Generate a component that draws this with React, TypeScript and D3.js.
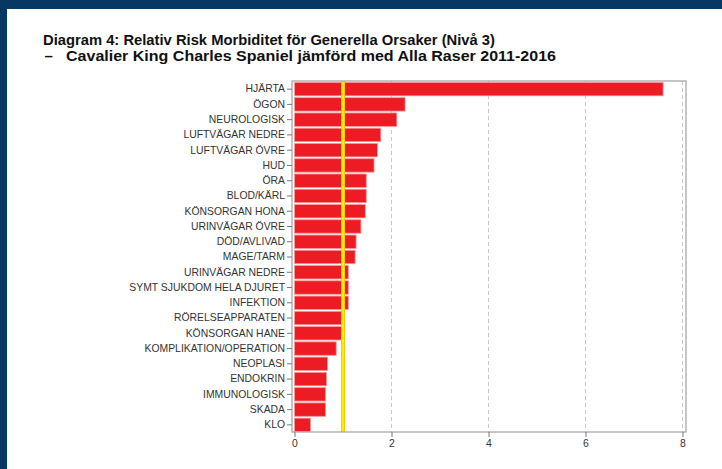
import * as d3 from 'd3'
import { useRef, useEffect } from 'react'

const categories = [
  'HJÄRTA', 'ÖGON', 'NEUROLOGISK', 'LUFTVÄGAR NEDRE', 'LUFTVÄGAR ÖVRE', 'HUD', 'ÖRA',
  'BLOD/KÄRL', 'KÖNSORGAN HONA', 'URINVÄGAR ÖVRE', 'DÖD/AVLIVAD', 'MAGE/TARM',
  'URINVÄGAR NEDRE', 'SYMT SJUKDOM HELA DJURET', 'INFEKTION', 'RÖRELSEAPPARATEN',
  'KÖNSORGAN HANE', 'KOMPLIKATION/OPERATION', 'NEOPLASI', 'ENDOKRIN', 'IMMUNOLOGISK',
  'SKADA', 'KLO',
]
const relativeRisk = [
  7.6, 2.28, 2.11, 1.78, 1.71, 1.64, 1.48, 1.48, 1.46, 1.37, 1.27, 1.25,
  1.11, 1.11, 1.11, 0.97, 0.97, 0.86, 0.68, 0.66, 0.64, 0.64, 0.33,
]
const xTicks = [0, 2, 4, 6, 8]
const gridTicks = [2, 4, 6, 8]
const referenceLevel = 1
const titleLine1 = 'Diagram 4: Relativ Risk Morbiditet för Generella Orsaker (Nivå 3)'
const titleLine2 = 'Cavalier King Charles Spaniel jämförd med Alla Raser 2011-2016'

export default function App() {
  const svgRef = useRef<SVGSVGElement>(null)

  useEffect(() => {
    const svg = d3.select(svgRef.current)
    svg.selectAll('*').remove()

    const width = 722
    const height = 469
    const frame = { left: 292, right: 686, top: 81, bottom: 432 }
    const font = 'Liberation Sans, Arial, sans-serif'

    // blue slide border
    svg.append('rect').attr('width', width).attr('height', height).attr('fill', '#073763')
    svg.append('rect').attr('x', 7).attr('y', 9).attr('width', width - 7).attr('height', height - 9).attr('fill', '#fff')

    const title = svg.append('g')
      .attr('font-family', font)
      .attr('font-weight', 'bold')
      .attr('fill', '#111')
    title.append('text')
      .attr('x', 43).attr('y', 44.5)
      .attr('font-size', 15.3)
      .attr('textLength', 452)
      .attr('lengthAdjust', 'spacingAndGlyphs')
      .text(titleLine1)
    title.append('text')
      .attr('x', 44.5).attr('y', 61)
      .attr('font-size', 15)
      .text('–')
    title.append('text')
      .attr('x', 66).attr('y', 61)
      .attr('font-size', 15.5)
      .attr('textLength', 490)
      .attr('lengthAdjust', 'spacingAndGlyphs')
      .text(titleLine2)

    const x = d3.scaleLinear().domain([0, 8]).range([294.5, 682.5])
    const y = d3.scaleBand<string>()
      .domain(categories)
      .range([frame.top + 0.5, frame.bottom + 0.5])
      .paddingInner(0.12)
      .paddingOuter(0.06)

    // dashed grid
    svg.append('g')
      .selectAll('line')
      .data(gridTicks)
      .join('line')
      .attr('x1', d => x(d)).attr('x2', d => x(d))
      .attr('y1', frame.top).attr('y2', frame.bottom)
      .attr('stroke', '#c8c8c8')
      .attr('stroke-dasharray', '4,3')

    // bars
    svg.append('g')
      .selectAll('rect')
      .data(relativeRisk)
      .join('rect')
      .attr('x', x(0))
      .attr('y', (_, i) => y(categories[i])!)
      .attr('width', d => x(d) - x(0))
      .attr('height', y.bandwidth())
      .attr('fill', '#ed1c24')
      .attr('stroke', '#f59a9d')
      .attr('stroke-width', 0.8)

    // reference line at RR = 1
    svg.append('line')
      .attr('x1', x(referenceLevel)).attr('x2', x(referenceLevel))
      .attr('y1', frame.top).attr('y2', frame.bottom)
      .attr('stroke', '#f2c200')
      .attr('stroke-width', 4)
    svg.append('line')
      .attr('x1', x(referenceLevel)).attr('x2', x(referenceLevel))
      .attr('y1', frame.top).attr('y2', frame.bottom)
      .attr('stroke', '#ffee00')
      .attr('stroke-width', 2.4)

    // frame
    svg.append('rect')
      .attr('x', frame.left).attr('y', frame.top)
      .attr('width', frame.right - frame.left).attr('height', frame.bottom - frame.top)
      .attr('fill', 'none')
      .attr('stroke', '#a0a0a0')
      .attr('stroke-width', 1.2)

    // y axis
    const yAxis = svg.append('g')
      .attr('transform', `translate(${frame.left},0)`)
      .call(d3.axisLeft(y).tickSize(5).tickPadding(2).tickSizeOuter(0))
    yAxis.select('.domain').remove()
    yAxis.selectAll('line').attr('stroke', '#777')
    yAxis.selectAll('text')
      .attr('font-family', font)
      .attr('font-size', 10.4)
      .attr('fill', '#333')

    // x axis
    const xAxis = svg.append('g')
      .attr('transform', `translate(0,${frame.bottom})`)
      .call(d3.axisBottom(x).tickValues(xTicks).tickFormat(d3.format('d')).tickSize(5).tickPadding(3).tickSizeOuter(0))
    xAxis.select('.domain').remove()
    xAxis.selectAll('line').attr('stroke', '#777')
    xAxis.selectAll('text')
      .attr('font-family', font)
      .attr('font-size', 10.4)
      .attr('fill', '#333')
  }, [])

  return (
    <svg
      ref={svgRef}
      width={722}
      height={469}
      style={{ display: 'block', position: 'absolute', left: 0, top: 0 }}
    ></svg>
  )
}
